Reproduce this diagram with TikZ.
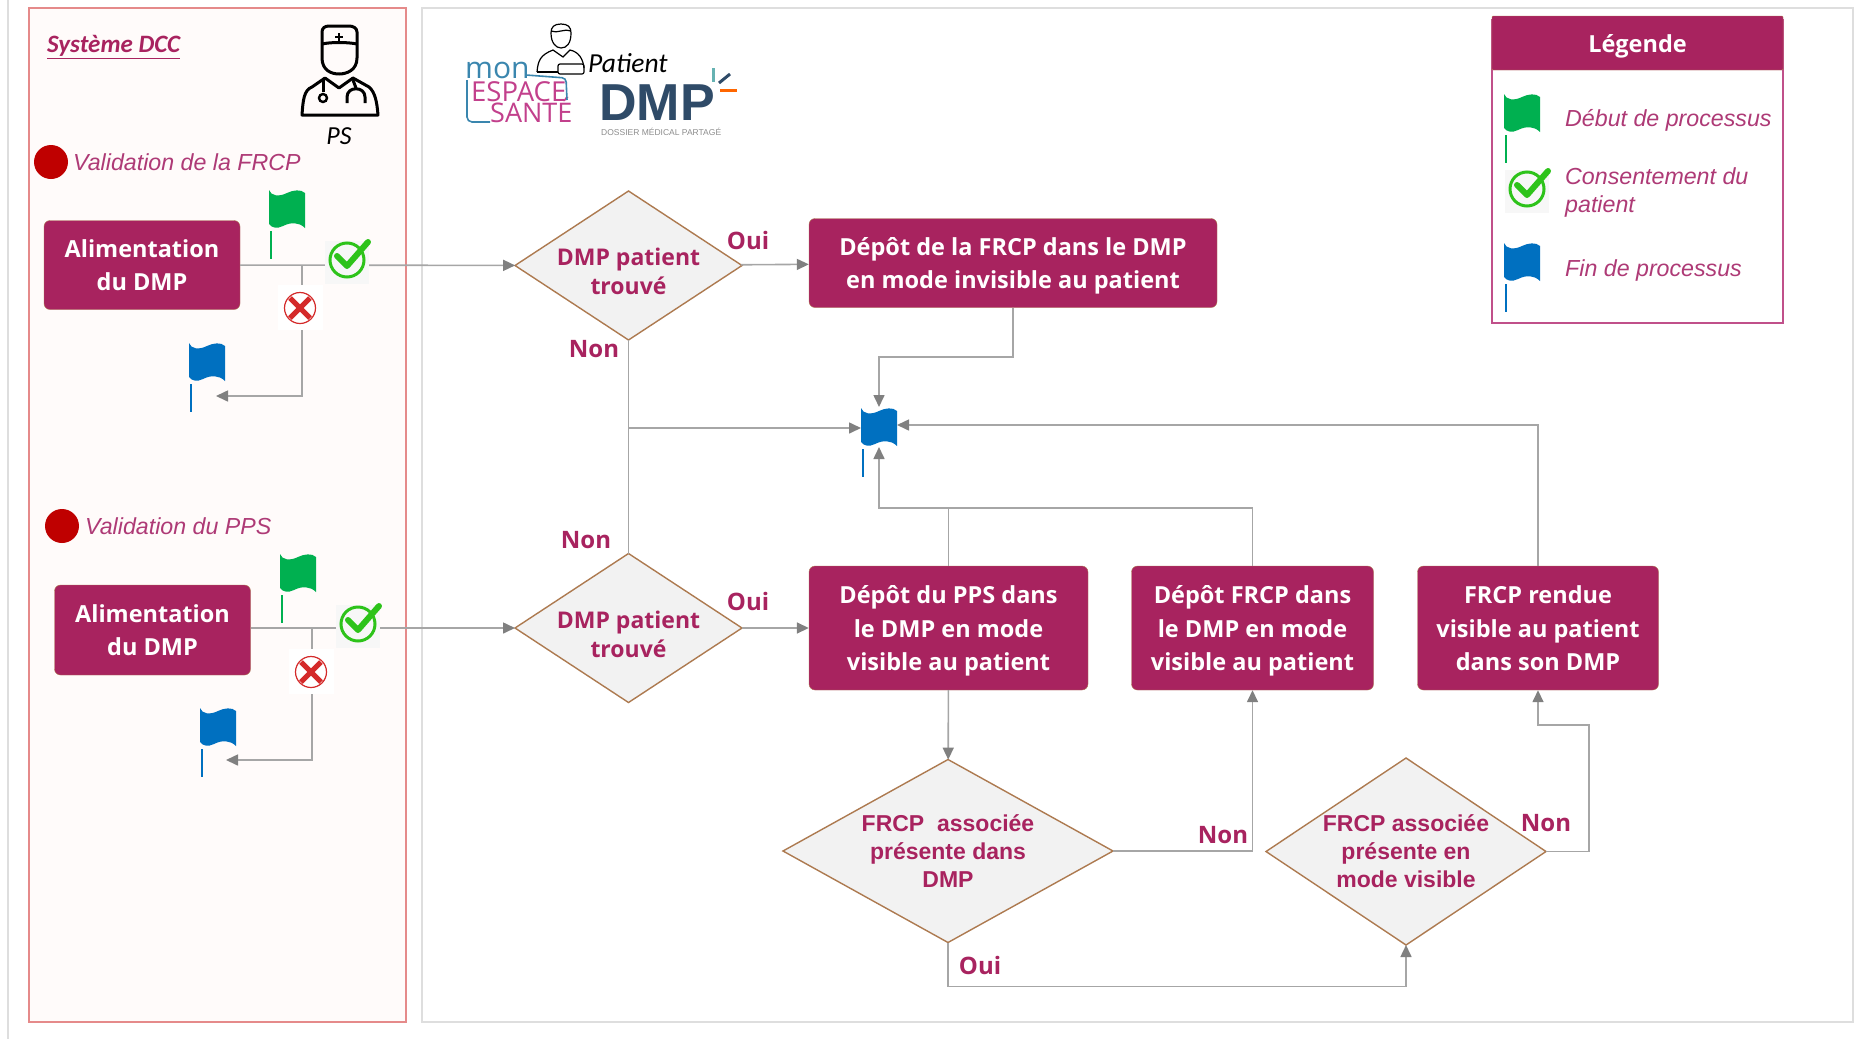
\documentclass[tikz,border=0pt]{standalone}
\usepackage{fontspec}
\setmainfont{Liberation Sans}
\newfontfamily\boxfont{Open Sans}
\newfontfamily\notefont{Carlito}
\usetikzlibrary{arrows.meta,shapes.geometric}
\definecolor{plum}{HTML}{A8235F}
\definecolor{plumtext}{HTML}{AE3A76}
\definecolor{plumline}{HTML}{C0508A}
\definecolor{brownline}{HTML}{AD7A50}
\definecolor{flowgray}{HTML}{A6A6A6}
\definecolor{tipgray}{HTML}{808080}
\definecolor{framegray}{HTML}{DEDEDE}
\definecolor{flagblue}{HTML}{0070C0}
\definecolor{flaggreen}{HTML}{00B050}
\definecolor{okgreen}{HTML}{2DC31A}
\definecolor{nored}{HTML}{D42A2A}
\definecolor{dccline}{HTML}{E58A8A}
\definecolor{dccfill}{HTML}{FFFBFA}
\definecolor{monblue}{HTML}{3A86AE}
\definecolor{monpink}{HTML}{C2408C}
\definecolor{dmpnavy}{HTML}{2F4B68}
\tikzset{
  procbox/.style={draw=brownline, fill=plum, rounded corners=6pt, text=white, align=center,
    inner sep=0pt, font=\boxfont\bfseries\fontsize{23.5}{33.5}\selectfont,
    execute at begin node={\rule{0pt}{#1}}, execute at end node=\strut},
  decision/.style={diamond, draw=brownline, line width=1.4pt, fill=black!5, text=plum, align=center,
    inner sep=-30pt, outer sep=0pt},
  dmpfont/.style={font=\boxfont\bfseries\fontsize{23}{29}\selectfont,
    execute at begin node={\rule{0pt}{59pt}}},
  frcpfont/.style={font=\bfseries\fontsize{23}{28}\selectfont},
  lbl/.style={text=plum, font=\boxfont\bfseries\fontsize{24}{28}\selectfont},
  note/.style={text=plumtext, anchor=west, align=left, inner sep=0pt,
    font=\itshape\fontsize{23.2}{28}\selectfont},
  logotext/.style={anchor=west, inner sep=0pt, text height=19pt, text depth=0pt},
  flow/.style={color=flowgray, line width=1.6pt},
  >={Triangle[length=12pt,width=11pt,color=tipgray]},
  flagicon/.pic={
    \node[minimum width=36pt, minimum height=40pt, inner sep=0pt, outer sep=0pt] (-box) {};
    \fill[#1] (-18,-19) .. controls (-16,-13) and (-8,-12) .. (0,-16)
      .. controls (6,-19) and (14,-20) .. (18,-16) -- (18,19)
      .. controls (12,13) and (4,13) .. (-4,17) .. controls (-10,20) and (-15,19) .. (-18,15) -- cycle;
    \draw[#1, line width=1.6pt] (-16,22) -- (-16,50);
  },
  checkicon/.pic={
    \fill[black!3] (-22,-19) rectangle (22,24);
    \draw[okgreen, line width=3pt] (0,0) circle (17);
    \draw[okgreen, line width=6pt, line cap=round, line join=round] (-10,-4) -- (0,6) -- (21,-18);
  },
  crossicon/.pic={
    \fill[white] (-22,-23) rectangle (23,22);
    \draw[nored, line width=1.2pt] (0,0) circle (15.5);
    \draw[nored, line width=5pt] (-10,-10) -- (10,10) (10,-10) -- (-10,10);
  },
  doctoricon/.pic={
    \draw[line width=3pt, line join=round] (-17,-26) -- (-17,-38) .. controls (-17,-42) and (-14,-44) .. (-10,-44)
      -- (10,-44) .. controls (14,-44) and (18,-42) .. (18,-38) -- (18,-12)
      .. controls (18,0) and (8,4) .. (0,4) .. controls (-8,4) and (-17,0) .. (-17,-12) -- cycle;
    \draw[line width=3pt] (-17,-26) .. controls (-8,-28) and (8,-28) .. (18,-26);
    \draw[line width=2pt] (-4,-33) -- (4,-33) (0,-37) -- (0,-29);
    \draw[line width=3pt, line join=round] (-37,45) .. controls (-36,30) and (-35,20) .. (-27,17) -- (-14,8)
      -- (0,18) -- (14,8) -- (30,17) .. controls (36,22) and (38,32) .. (39,45) -- cycle;
    \draw[line width=3pt] (-16,10) -- (-16,22);
    \draw[line width=2.4pt] (-16,28) circle (4);
    \draw[line width=3pt] (14,10) -- (17,18);
    \draw[line width=3pt] (8,33) -- (8,27) .. controls (8,16) and (26,16) .. (26,27) -- (26,33);
  },
  patienticon/.pic={
    \draw[line width=1.2pt] (0,-13) .. controls (-7,-13) and (-10,-10) .. (-10,-4) .. controls (-10,6) and (-5,11) .. (0,11)
      .. controls (6,11) and (10,6) .. (10,-4) .. controls (10,-10) and (7,-13) .. (0,-13) -- cycle;
    \draw[line width=1.2pt] (-10,-6) .. controls (-4,-3) and (4,-9) .. (10,-6);
    \draw[line width=1.2pt] (-24,35) .. controls (-23,24) and (-21,18) .. (-8,13) -- (2,20) -- (9,13)
      .. controls (18,15) and (22,22) .. (23,31);
    \draw[line width=1.2pt] (-24,35) -- (-3,35);
    \draw[line width=1.2pt, rounded corners=2pt] (-3,27) rectangle (23,37);
  }
}
\begin{document}
\begin{tikzpicture}[x=1pt, y=-1pt]
  \useasboundingbox (0,0) rectangle (1860,1039);
  % frames
  \draw[framegray, line width=2pt] (8,0) -- (8,1039);
  \draw[draw=framegray, line width=2.4pt] (422,8) rectangle (1853,1022);
  \draw[draw=dccline, fill=dccfill, line width=2.4pt] (29,8) rectangle (406,1022);

  % left column
  \node[text=plum, anchor=west, inner sep=0pt, font=\notefont\bfseries\itshape\fontsize{25}{28}\selectfont] (system) at (47,47) {\underline{Système DCC}};
  \pic (doctor) at (339,70) {doctoricon};
  \node[font=\notefont\itshape\fontsize{26}{30}\selectfont] (ps) at (339,136) {PS};
  \fill[red!75!black] (51,162) circle (17);
  \node[note] (frcpvalid) at (73,162) {Validation de la FRCP};
  \fill[red!75!black] (62,526) circle (17);
  \node[note] (ppsvalid) at (85,526) {Validation du PPS};

  \node[procbox=62pt, minimum width=196pt, minimum height=89pt] (feedone) at (142,265) {Alimentation\\du DMP};
  \node[procbox=62pt, minimum width=196pt, minimum height=90pt] (feedtwo) at (152.5,630) {Alimentation\\du DMP};
  \pic (startone) at (287,209) {flagicon=flaggreen};
  \pic (starttwo) at (298,573) {flagicon=flaggreen};
  \pic (stopone) at (207,362) {flagicon=flagblue};
  \pic (stoptwo) at (218,727) {flagicon=flagblue};

  % logos
  \pic (patient) at (561,37) {patienticon};
  \node[font=\notefont\itshape\fontsize{27.5}{30}\selectfont, anchor=west, inner sep=0pt] (patientname) at (588,63) {Patient};
  \node[text=monblue, anchor=west, inner sep=0pt, font=\boxfont\fontsize{30}{32}\selectfont] (mon) at (465,70) {mon};
  \node[text=monpink, logotext, font=\boxfont\fontsize{27.5}{30}\selectfont] (espace) at (471,92) {ESPACE};
  \node[text=monpink, logotext, font=\boxfont\fontsize{27}{30}\selectfont] (sante) at (490,113) {SANTÉ};
  \draw[monblue, line width=1.6pt, rounded corners=4pt] (526,75) -- (566,78) -- (567,100);
  \draw[monblue, line width=1.6pt, rounded corners=5pt] (467,80) -- (467,122) -- (490,122);
  \node[text=dmpnavy, anchor=west, inner sep=0pt, font=\bfseries\fontsize{52}{56}\selectfont] (dmp) at (599,103) {DMP};
  \node[text=black!45, anchor=west, inner sep=0pt, font=\fontsize{8.5}{10}\selectfont] (dmpname) at (601,132) {DOSSIER MÉDICAL PARTAGÉ};
  \draw[teal!60, line width=3pt] (713,68) -- (713,82);
  \draw[dmpnavy, line width=3pt] (719,83) -- (730,74);
  \draw[orange!80!red, line width=3pt] (720,90) -- (737,90);

  % legend
  \draw[draw=plumline, fill=white, line width=1.4pt] (1492,20) rectangle (1783,323);
  \node[draw=brownline, fill=plum, rounded corners=1pt, text=white, minimum width=291pt, minimum height=54pt, inner sep=0pt, font=\boxfont\bfseries\fontsize{23.5}{28}\selectfont, execute at begin node={\rule{0pt}{27pt}}, execute at end node=\strut] (legendhead) at (1637.5,43) {Légende};
  \pic (legendstart) at (1522,113) {flagicon=flaggreen};
  \node[note] (legendone) at (1565,120) {Début de processus};
  \pic (legendok) at (1527,189) {checkicon};
  \node[note] (legendtwo) at (1565,192) {Consentement du\\patient};
  \pic (legendstop) at (1522,262) {flagicon=flagblue};
  \node[note] (legendthree) at (1565,270) {Fin de processus};

  % flow
  \node[decision, dmpfont, minimum width=227pt, minimum height=149pt] (findone) at (628.5,265.5) {DMP patient\\trouvé};
  \node[decision, dmpfont, minimum width=227pt, minimum height=149pt] (findtwo) at (628.5,628) {DMP patient\\trouvé};
  \node[decision, frcpfont, minimum width=330pt, minimum height=183pt] (frcpin) at (948,851) {FRCP~ associée\\présente dans\\DMP};
  \node[decision, frcpfont, minimum width=280pt, minimum height=187pt] (frcpvis) at (1406,851.5) {FRCP associée\\présente en\\mode visible};
  \node[procbox=62pt, minimum width=408pt, minimum height=89pt] (putinv) at (1013,263) {Dépôt de la FRCP dans le DMP\\en mode invisible au patient};
  \node[procbox=96pt, minimum width=279pt, minimum height=124pt] (putpps) at (948.5,628) {Dépôt du PPS dans\\le DMP en mode\\visible au patient};
  \node[procbox=96pt, minimum width=242pt, minimum height=124pt] (putfrcp) at (1252.5,628) {Dépôt FRCP dans\\le DMP en mode\\visible au patient};
  \node[procbox=96pt, minimum width=241pt, minimum height=124pt] (showfrcp) at (1538,628) {FRCP rendue\\visible au patient\\dans son DMP};
  \pic (stopmain) at (879,427) {flagicon=flagblue};

  \coordinate (exitone) at (216,396);
  \coordinate (exittwo) at (226,760);
  \coordinate (refusone) at (302,265);
  \coordinate (refustwo) at (312,628);
  \coordinate (branch) at (628.5,428);
  \coordinate (joinpps) at (948.5,508);
  \coordinate (dropinv) at (1013,357);
  \coordinate (riseshow) at (1589,725);

  \path[flow, ->]
  (feedone) edge (findone)
  (feedtwo.east |- findtwo) edge (findtwo)
  (findone) edge (putinv)
  (findtwo) edge (putpps)
  (putpps) edge (frcpin)
  (branch) edge (stopmain-box.west |- branch)
  ;
  \path[flow]
  (findone) edge (findtwo)
  ;
  \draw[flow, ->] (refusone) |- (exitone);
  \draw[flow, ->] (refustwo) |- (exittwo);
  \draw[flow, ->] (putinv.south) -- (dropinv) -| (stopmain-box.north);
  \draw[flow, ->] (putpps.north) |- (joinpps -| stopmain-box.south) -- (stopmain-box.south);
  \draw[flow] (putfrcp.north) |- (joinpps);
  \draw[flow, ->] (showfrcp.north) |- ([yshift=2pt]stopmain-box.east);
  \draw[flow, ->] (frcpin.east) -| (putfrcp.south);
  \draw[flow, ->] (frcpvis.east) -| (riseshow) -| (showfrcp.south);
  \draw[flow, ->] (frcpin.south) |- +(458,44) -- (frcpvis.south);

  \node[lbl] (yesone) at (748,240) {Oui};
  \node[lbl] (noone) at (594,349) {Non};
  \node[lbl] (notwo) at (586,540) {Non};
  \node[lbl] (yestwo) at (748,601) {Oui};
  \node[lbl] (nothree) at (1223,835) {Non};
  \node[lbl] (nofour) at (1546,823) {Non};
  \node[lbl] (yesthree) at (980,965) {Oui};

  \pic (checkone) at (347,260) {checkicon};
  \pic (checktwo) at (358,624) {checkicon};
  \pic (crossone) at (300,308) {crossicon};
  \pic (crosstwo) at (311,672) {crossicon};
\end{tikzpicture}
\end{document}
